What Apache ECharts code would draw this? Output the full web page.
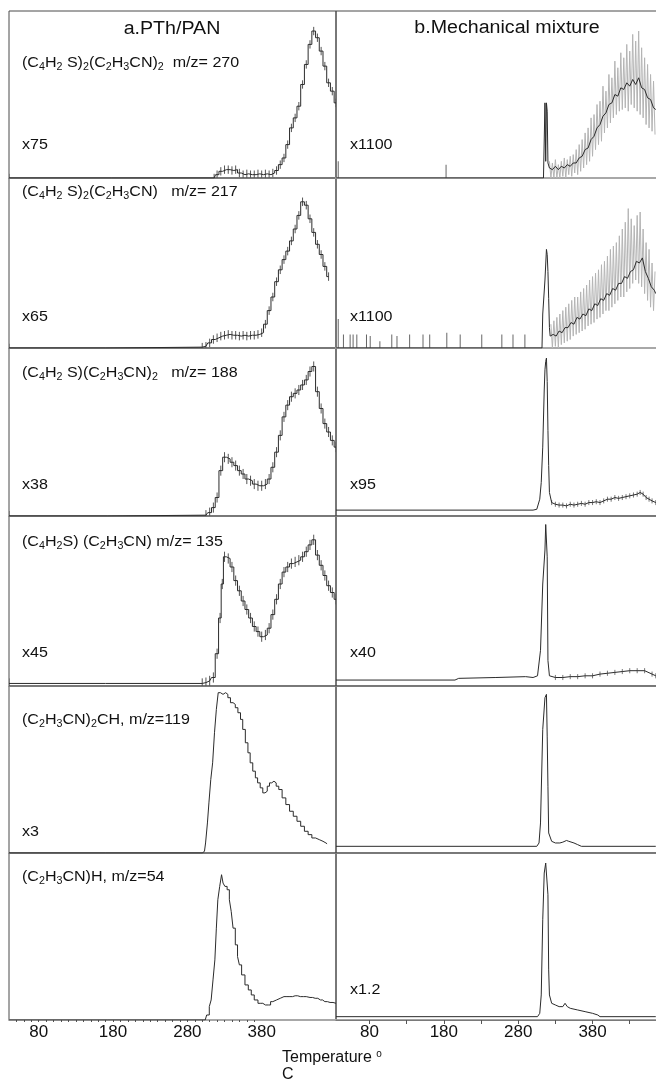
<!DOCTYPE html>
<html><head><meta charset="utf-8">
<script src="https://cdn.jsdelivr.net/npm/echarts@6/dist/echarts.min.js"></script>
<style>html,body{margin:0;padding:0;background:#fff}#c{width:656px;height:1085px}</style>
</head><body><div id="c"></div>
<script>
// ---------------- DATA (temperature °C, relative intensity % of panel) ----------------
const xLabelTicks = [80, 180, 280, 380];
const xMinorTicksRight = [80, 130, 180, 230, 280, 330, 380, 430];
const xMinorTicksLeft = [50, 60, 70, 80, 90, 100, 110, 120, 130, 140, 150, 160, 170, 180, 190, 200, 210, 220, 230, 240, 250, 260, 270, 280, 290, 300, 310, 320, 330, 340, 350, 360, 370];

const titles = ['a.PTh/PAN', 'b.Mechanical mixture'];
const formulas = [
  '(C_4H_2 S)_2(C_2H_3CN)_2  m/z= 270',
  '(C_4H_2 S)_2(C_2H_3CN)   m/z= 217',
  '(C_4H_2 S)(C_2H_3CN)_2   m/z= 188',
  '(C_4H_2S) (C_2H_3CN) m/z= 135',
  '(C_2H_3CN)_2CH, m/z=119',
  '(C_2H_3CN)H, m/z=54'
];
const multLeft = ['x75', 'x65', 'x38', 'x45', 'x3', ''];
const multRight = ['x1100', 'x1100', 'x95', 'x40', '', 'x1.2'];

// a. PTh/PAN
const L1 = [[40,0],[316,0],[320,2],[325,4],[330,5],[335,5],[340,4.5],[345,5],[350,3],[355,2],[360,2.5],[365,2],[370,2],[375,2.5],[380,2],[385,2.5],[390,2],[395,3],[400,4.5],[405,8],[410,12],[415,20],[420,30],[425,36],[430,43],[435,56],[440,68],[445,80],[450,88],[455,84],[460,76],[465,67],[470,57],[475,52],[480,45]];
const L2 = [[40,0],[300,0.5],[305,1],[310,3],[315,5],[320,6],[325,7],[330,7.5],[335,8],[340,7.5],[345,7.5],[350,7],[355,7.5],[360,7],[365,7.5],[370,7.5],[375,8],[380,9],[385,14],[390,22],[395,30],[400,39],[405,46],[410,52],[415,57],[420,63],[425,70],[430,78],[435,86],[440,84],[445,76],[450,68],[455,61],[460,55],[465,48],[470,42]];
const L3 = [[40,0],[305,0.5],[310,2],[315,5],[320,11],[325,27],[330,35],[335,34],[340,32],[345,30],[350,27],[355,25],[360,22],[365,21],[370,19],[375,18],[380,18],[385,19],[390,22],[395,29],[400,38],[405,48],[410,59],[415,66],[420,71],[425,73],[430,75],[435,78],[440,81],[445,86],[450,89],[455,74],[460,64],[465,55],[470,50],[475,45],[480,41]];
const L4 = [[40,1.5],[300,1.5],[305,2],[310,3],[315,5],[320,19],[324,40],[327,60],[330,76],[335,75],[340,70],[345,62],[350,56],[355,50],[360,45],[365,40],[370,35],[375,32],[380,29],[385,30],[390,34],[395,42],[400,51],[405,60],[410,67],[415,70],[420,72],[425,73],[430,74],[435,76],[440,79],[445,83],[450,86],[455,77],[460,71],[465,65],[470,59],[475,55],[480,51]];
const L5 = [[40,0],[300,0],[303,1],[306,6],[308,18],[310,30],[313,44],[315,54],[318,72],[320,86],[323,96],[326,95],[330,96],[333,95],[336,93],[340,90],[343,89],[346,87],[350,84],[353,80],[356,74],[360,66],[363,60],[366,54],[370,49],[373,45],[376,42],[380,39],[383,36],[386,37],[389,40],[392,42],[395,43],[398,42],[401,40],[405,38],[410,33],[415,29],[420,25],[425,22],[430,19],[435,16],[440,13],[445,11],[450,9],[455,8],[460,7],[465,6],[468,5.5]];
const L6 = [[40,0],[304,0],[308,3],[311,8],[313,12],[316,24],[318,36],[320,55],[322,72],[325,80],[327,87],[329,82],[332,80],[335,78],[338,72],[340,65],[343,55],[346,45],[349,38],[351,33],[355,27],[360,21],[364,18],[368,15],[372,12],[378,10],[385,9],[389,9],[395,11],[400,12],[405,13],[410,14],[418,14],[425,14.5],[432,14],[440,14],[445,13.5],[452,13],[459,12],[465,11],[472,10.5],[480,10]];
const noiseLeft = [2.5, 2.5, 3, 3, 0, 0];   // half-height of the scatter bars

// b. Mechanical mixture
const R1 = [[35,0],[314,0],[316,45],[317,10],[318,45],[319,40],[320,9],[322,6],[326,5],[330,7],[334,5],[338,7],[342,6],[346,8],[350,7],[354,9],[358,9],[362,12],[366,13],[370,17],[374,18],[378,23],[382,25],[386,30],[390,32],[394,37],[398,39],[402,44],[406,45],[410,50],[414,49],[418,54],[422,53],[426,57],[430,55],[434,59],[438,56],[442,60],[446,54],[450,53],[454,48],[458,47],[462,42],[465,41]];
const R1scatter = [[322,10],[324,0],[326,9],[328,0],[330,11],[332,0],[334,8],[336,0],[338,10],[340,1],[342,12],[344,0],[346,11],[348,2],[350,13],[352,1],[354,14],[356,3],[358,17],[360,2],[362,20],[364,4],[366,23],[368,6],[370,27],[372,8],[374,30],[376,10],[378,36],[380,13],[382,38],[384,17],[386,44],[388,20],[390,46],[392,22],[394,55],[396,27],[398,52],[400,30],[402,62],[404,33],[406,60],[408,36],[410,70],[412,38],[414,66],[416,40],[418,75],[420,41],[422,72],[424,42],[426,80],[428,40],[430,76],[432,44],[434,86],[436,42],[438,82],[440,40],[442,88],[444,38],[446,78],[448,36],[450,72],[452,32],[454,68],[456,30],[458,62],[460,28],[462,58],[464,26]];
const R1spikes = [[38,10],[183,8]];
const R2 = [[35,0],[312,0],[313,20],[316,40],[318,58],[319,55],[320,45],[321,29],[322,12],[323,7],[327,8],[331,7],[335,10],[339,9],[343,12],[347,12],[351,15],[355,14],[359,18],[363,17],[367,20],[371,19],[375,23],[379,22],[383,26],[387,25],[391,29],[395,28],[399,32],[403,31],[407,35],[411,34],[415,38],[419,38],[423,42],[427,41],[431,45],[435,46],[439,51],[443,50],[447,53],[451,45],[455,41],[459,36],[463,34],[465,32]];
const R2scatter = [[324,14],[326,0],[328,16],[330,1],[332,18],[334,0],[336,20],[338,2],[340,22],[342,3],[344,24],[346,4],[348,26],[350,5],[352,28],[354,7],[356,30],[358,8],[360,30],[362,9],[364,33],[366,10],[368,35],[370,11],[372,37],[374,13],[376,40],[378,14],[380,42],[382,15],[384,44],[386,17],[388,46],[390,18],[392,49],[394,20],[396,51],[398,22],[400,54],[402,22],[404,58],[406,24],[408,60],[410,26],[412,62],[414,28],[416,66],[418,30],[420,70],[422,30],[424,74],[426,33],[428,82],[430,35],[432,76],[434,38],[436,72],[438,40],[440,78],[442,38],[444,80],[446,36],[448,70],[450,32],[452,62],[454,28],[456,58],[458,24],[460,50],[462,22],[464,45]];
const R2spikes = [[38,17],[45,8],[54,8],[58,8],[63,8],[76,8],[81,7],[94,4],[110,8],[117,7],[134,8],[152,8],[161,8],[184,9],[202,8],[231,8],[258,8],[273,8],[289,8]];
const R3 = [[35,3.5],[300,3.5],[305,4],[309,10],[311,20],[313,41],[315,75],[316,87],[317,92],[318,94],[319,80],[320,51],[321,30],[322,14],[325,8],[330,7],[335,6.5],[340,6.5],[345,6],[350,7],[355,6.5],[360,7],[365,7.5],[370,7],[375,8],[380,8],[385,8.5],[390,8],[395,9],[400,10],[405,10],[410,11],[415,10.5],[420,11],[425,11.5],[430,12],[435,12.5],[440,13],[444,14],[448,13],[452,11],[456,10],[460,9],[465,8]];
const R4 = [[35,3.5],[195,3.5],[200,4.5],[250,5],[290,5.5],[300,5],[306,6],[310,21],[313,60],[316,80],[317,95],[319,76],[320,15],[322,6],[330,5],[340,5],[350,5.5],[360,5.5],[370,6],[380,6],[390,7],[400,7.5],[410,8],[420,8.5],[430,9],[440,9],[450,9],[460,7],[465,6]];
const R5 = [[35,4],[305,4],[308,6],[310,18],[313,74],[316,93],[318,95],[319,70],[320,40],[321,12],[325,7],[330,6],[336,6],[340,6.5],[345,7.5],[348,7],[350,6],[355,6],[360,5],[365,4],[465,4]];
const R6 = [[35,2],[306,2],[309,4],[311,15],[313,60],[315,88],[317,94],[319,93],[320,75],[321,30],[322,15],[325,10],[330,9],[335,8],[340,8],[343,10],[346,8],[350,7],[360,6],[370,5],[380,4],[387,3],[390,2],[465,2]];
const noiseRight = [0, 0, 1.5, 1.5, 0, 0];

// ---------------- LAYOUT ----------------
const FONT = 'Liberation Sans';
const colLeft = [9, 336];
const colWidth = [327, 322];
const xRange = [[40, 480], [35, 468]];
const rowTop = [11, 178, 348, 516, 686, 853];
const rowH = [167, 170, 168, 170, 167, 167];

const leftData = [L1, L2, L3, L4, L5, L6];
const rightData = [R1, R2, R3, R4, R5, R6];

const grids = [], xAxes = [], yAxes = [], series = [];

function addPanel(c, r) {
  const gi = grids.length;
  const bottomRow = r === 5;
  const grayBase = (c === 1 && r < 2) || (c === 0 && r === 5);
  grids.push({left: colLeft[c], top: rowTop[r], width: colWidth[c], height: rowH[r],
    show: true, borderColor: '#4a4a4a', borderWidth: 1, backgroundColor: 'transparent',
    outerBoundsMode: 'none', containLabel: false});
  xAxes.push({type: 'value', gridIndex: gi, min: xRange[c][0], max: xRange[c][1],
    splitLine: {show: false},
    axisLine: {show: true, onZero: false, lineStyle: {color: grayBase ? '#a8a8a8' : '#7a7a7a', width: grayBase ? 2 : 1.2}},
    axisTick: {show: bottomRow, customValues: c === 1 ? xMinorTicksRight : xMinorTicksLeft, length: c === 1 ? 4 : 2, lineStyle: {color: '#555'}},
    axisLabel: {show: bottomRow, customValues: xLabelTicks, margin: 4, fontFamily: FONT, fontSize: 17, color: '#111'}});
  yAxes.push({type: 'value', gridIndex: gi, min: 0, max: 100, show: false});
  return gi;
}

function errSeries(gi, data, e, color) {
  return {type: 'custom', xAxisIndex: gi, yAxisIndex: gi, silent: true, clip: true,
    data: data.map(d => [d[0], Math.max(0, d[1] - e), d[1] + e]),
    encode: {x: 0, y: [1, 2]},
    renderItem: function (params, api) {
      const p1 = api.coord([api.value(0), api.value(1)]);
      const p2 = api.coord([api.value(0), api.value(2)]);
      return {type: 'line', shape: {x1: p1[0], y1: p1[1], x2: p2[0], y2: p2[1]},
        style: {stroke: color, lineWidth: 1}};
    }, z: 3};
}

function lineSeries(gi, data, step, color, width, z) {
  return {type: 'line', xAxisIndex: gi, yAxisIndex: gi, data: data, step: step,
    symbol: 'none', showSymbol: false, silent: true, clip: true,
    lineStyle: {color: color, width: width}, z: z};
}

function spikeSeries(gi, data) {
  return {type: 'bar', xAxisIndex: gi, yAxisIndex: gi, data: data, barWidth: 1,
    silent: true, itemStyle: {color: '#666'}, z: 2};
}

for (let r = 0; r < 6; r++) {
  const gi = addPanel(0, r);
  series.push(lineSeries(gi, leftData[r], 'middle', '#2b2b2b', 1, 4));
  if (noiseLeft[r] > 0) series.push(errSeries(gi, leftData[r], noiseLeft[r], '#555'));
}
for (let r = 0; r < 6; r++) {
  const gi = addPanel(1, r);
  if (r === 0) { series.push(lineSeries(gi, R1scatter, false, '#b4b4b4', 1, 2)); series.push(spikeSeries(gi, R1spikes)); }
  if (r === 1) { series.push(lineSeries(gi, R2scatter, false, '#b4b4b4', 1, 2)); series.push(spikeSeries(gi, R2spikes)); }
  series.push(lineSeries(gi, rightData[r], false, '#2b2b2b', 1, 4));
  if (noiseRight[r] > 0) series.push(errSeries(gi, rightData[r].filter(d => d[0] > 322), noiseRight[r], '#777'));
}

// ---------------- TEXT ----------------
function chem(s) {
  let out = '', buf = '';
  for (let i = 0; i < s.length; i++) {
    if (s[i] === '_') { if (buf) { out += '{n|' + buf + '}'; buf = ''; } out += '{s|' + s[i + 1] + '}'; i++; }
    else buf += s[i];
  }
  if (buf) out += '{n|' + buf + '}';
  return out;
}
const rich = {
  n: {fontFamily: FONT, fontSize: 15, fill: '#111', lineHeight: 19},
  s: {fontFamily: FONT, fontSize: 10, fill: '#111', lineHeight: 9, verticalAlign: 'bottom'}
};
const formulaY = [63, 192, 373, 542, 720, 877];
const multY = [145, 317, 485, 653, 832, 990];
const graphics = [];
function txt(x, y, text, size, align, sx) {
  graphics.push({type: 'text', x: x, y: y, scaleX: sx || 1, silent: true, z: 10,
    style: {text: text, fontFamily: FONT, fontSize: size, fill: '#111',
      align: align, textAlign: align, verticalAlign: 'middle', textVerticalAlign: 'middle'}});
}
txt(172, 29, titles[0], 18, 'center', 1.09);
txt(507, 28, titles[1], 18, 'center', 1.09);
for (let r = 0; r < 6; r++) {
  graphics.push({type: 'text', x: 22, y: formulaY[r], scaleX: 1.07, silent: true, z: 10,
    style: {text: chem(formulas[r]), rich: rich, fontFamily: FONT, fontSize: 15, fill: '#111',
      align: 'left', textAlign: 'left', verticalAlign: 'middle', textVerticalAlign: 'middle'}});
  if (multLeft[r]) txt(22, multY[r], multLeft[r], 15, 'left', 1.07);
  if (multRight[r]) txt(350, multY[r], multRight[r], 15, 'left', 1.07);
}
graphics.push({type: 'text', x: 282, y: 1049, silent: true, z: 10,
  style: {text: '{n|Temperature }{sup|o}\n{n|C}', fontFamily: FONT, fontSize: 16, fill: '#111',
    rich: {n: {fontFamily: FONT, fontSize: 16, fill: '#111', lineHeight: 17},
           sup: {fontFamily: FONT, fontSize: 10, fill: '#111', lineHeight: 17, verticalAlign: 'top'}},
    align: 'left', textAlign: 'left', verticalAlign: 'top', textVerticalAlign: 'top'}});

const chart = echarts.init(document.getElementById('c'), null, {renderer: 'canvas'});
chart.setOption({
  animation: false,
  backgroundColor: '#ffffff',
  grid: grids, xAxis: xAxes, yAxis: yAxes, series: series,
  graphic: graphics
});
</script></body></html>
